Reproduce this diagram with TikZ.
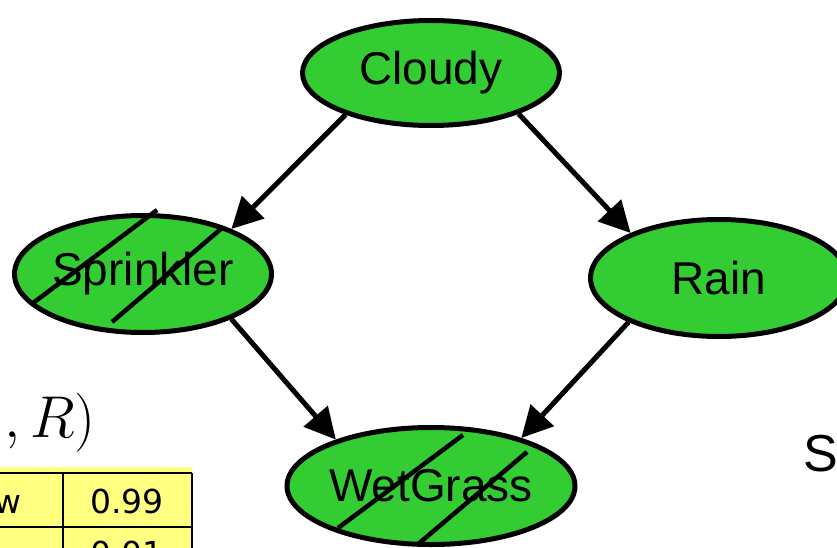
\RequirePackage{fix-cm}
\documentclass[tikz,border=0pt]{standalone}
\usepackage{fontspec}
\usepackage{tikz}
\usetikzlibrary{arrows.meta}
\usetikzlibrary{shapes.geometric}
\newfontfamily\nodefont{Liberation Sans}
\newfontfamily\tablefont{DejaVu Sans}
\definecolor{nodeGreen}{HTML}{33CC33}
\definecolor{cptYellow}{HTML}{FFFF80}

\tikzset{
  bnnode/.style={ellipse, draw, fill=nodeGreen, line width=5pt, inner sep=0pt,
    minimum width=257pt, minimum height=117pt,
    font=\nodefont\fontsize{46}{50}\selectfont},
  bnedge/.style={-{Triangle[length=31pt,width=31pt]}, line width=5pt},
  hatch/.style={line width=4.5pt},
  cptline/.style={line width=2pt},
  cptentry/.style={inner sep=0pt, font=\tablefont\fontsize{33}{36}\selectfont}
}

\begin{document}
\begin{tikzpicture}[x=1pt,y=-1pt]
  \useasboundingbox (0,0) rectangle (837,548);
  \clip (0,0) rectangle (837,548);

  %% network
  \node[bnnode, minimum height=105pt] (cloudy) at (431,73) {Cloudy};
  \node[bnnode] (sprinkler) at (143,274) {Sprinkler};
  \node[bnnode] (rain) at (719,278) {Rain};
  \node[bnnode] (wetgrass) at (431,486) {WetGrass};

  % crossed out (evidence)
  \draw[hatch] (33,303) -- (157,210);
  \draw[hatch] (112,322) -- (222,228);
  \draw[hatch] (338,528) -- (463,435);
  \draw[hatch] (417,545) -- (527,452);

  % edges
  \draw[bnedge] (cloudy.206) -- (sprinkler.27);
  \draw[bnedge] (cloudy.335) -- (rain.153);
  \draw[bnedge] (sprinkler.333) -- (wetgrass.154);
  \draw[bnedge] (rain.206) -- (wetgrass.28);

  %% side texts
  \node[anchor=base east, inner sep=0pt, font=\fontsize{59}{61}\selectfont]
    (query) at (96,437) {$,R)$};
  \node[anchor=base west, inner sep=0pt, font=\nodefont\fontsize{52}{56}\selectfont]
    (sample) at (803,471) {Sa};

  %% table
  \fill[cptYellow] (0,467) rectangle (192,548);
  \draw[cptline] (0,473) -- (192,473);
  \draw[cptline] (0,527) -- (192,527);
  \draw[cptline] (63,473) -- (63,548);
  \draw[cptline] (192,473) -- (192,548);
  \node[cptentry, anchor=base east] (rowone) at (22,513) {w};
  \node[cptentry, anchor=base] (probone) at (127,513) {0.99};
  \node[cptentry, anchor=base] (probtwo) at (127,565) {0.01};
\end{tikzpicture}
\end{document}
